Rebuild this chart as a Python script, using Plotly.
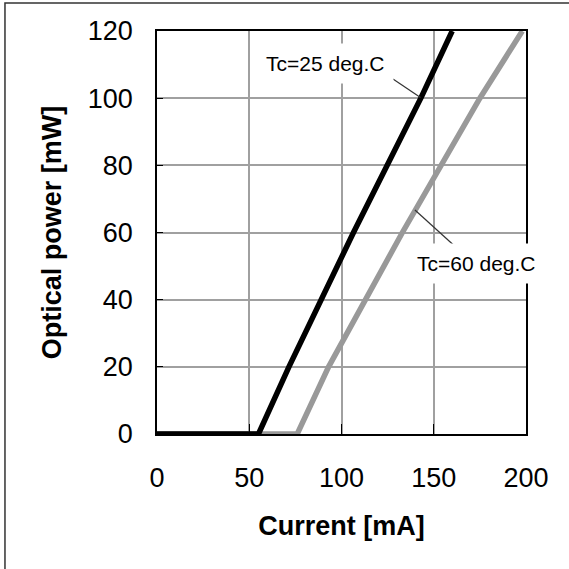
import plotly.graph_objects as go

# Data
current_25 = [0, 55, 71.5, 106.5, 143, 160]
power_25 = [0, 0, 20, 60, 100, 120]
current_60 = [0, 76, 93, 133, 175, 198]
power_60 = [0, 0, 20, 60, 100, 120]

x_ticks = [0, 50, 100, 150, 200]
y_ticks = [0, 20, 40, 60, 80, 100, 120]

FONT = "Liberation Sans, Arial, sans-serif"

fig = go.Figure()
fig.add_trace(go.Scatter(x=current_60, y=power_60, mode="lines",
                         line=dict(color="#999999", width=5.5), name="Tc=60 deg.C"))
fig.add_trace(go.Scatter(x=current_25, y=power_25, mode="lines",
                         line=dict(color="#000000", width=5.5), name="Tc=25 deg.C"))

# leader lines
fig.add_shape(type="line", xref="x", yref="y", x0=127.9, y0=105.7, x1=142.8, y1=100.2,
              line=dict(color="#333333", width=1.2))
fig.add_shape(type="line", xref="x", yref="y", x0=139.8, y0=66.7, x1=163.7, y1=54.8,
              line=dict(color="#333333", width=1.2))

fig.add_annotation(x=91.3, y=110.2, xref="x", yref="y", text="Tc=25 deg.C", showarrow=False,
                   font=dict(family=FONT, size=21, color="#000"), bgcolor="white", borderpad=8)
fig.add_annotation(x=173.4, y=50.9, xref="x", yref="y", text="Tc=60 deg.C", showarrow=False,
                   font=dict(family=FONT, size=21, color="#000"), bgcolor="white", borderpad=8)

# outer frame
fig.add_shape(type="rect", xref="paper", yref="paper", x0=-0.412, y0=-0.36, x1=1.13, y1=1.0695,
              line=dict(color="#333333", width=1.5), layer="above")

fig.update_xaxes(range=[0, 200], tickvals=x_ticks, ticks="inside", ticklen=10, tickcolor="#000",
                 tickwidth=1, showline=True, linecolor="#000", linewidth=1.5, mirror=True,
                 showgrid=True, gridcolor="#a0a0a0", gridwidth=1.5, zeroline=False, automargin=False,
                 tickfont=dict(family=FONT, size=27, color="#000"), ticklabelstandoff=19,
                 title=dict(text="<b>Current [mA]</b>", font=dict(family=FONT, size=27, color="#000"),
                            standoff=24))
fig.update_yaxes(range=[0, 120], tickvals=y_ticks, ticks="inside", ticklen=6, tickcolor="#000",
                 tickwidth=1, showline=True, linecolor="#000", linewidth=1.5, mirror=True,
                 showgrid=True, gridcolor="#a0a0a0", gridwidth=1.5, zeroline=False, automargin=False,
                 tickfont=dict(family=FONT, size=27, color="#000"), ticklabelstandoff=17,
                 title=dict(text="<b>Optical power [mW]</b>", font=dict(family=FONT, size=27, color="#000"),
                            standoff=18))

fig.update_layout(width=569, height=569, margin=dict(l=157, r=43, t=31, b=135),
                  paper_bgcolor="white", plot_bgcolor="white", showlegend=False)

fig.write_html("out.html", config={"displayModeBar": False},
               post_script="document.body.style.margin='0';document.body.style.overflow='hidden';")
